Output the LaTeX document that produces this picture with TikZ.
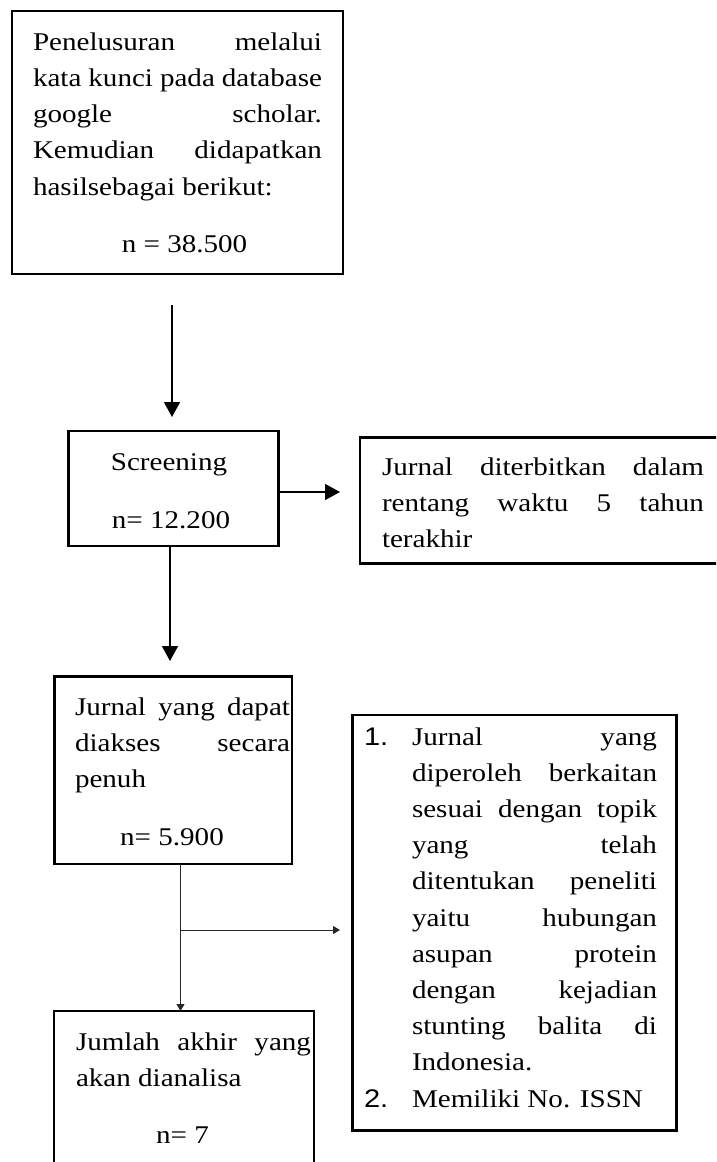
\documentclass[tikz,border=0pt]{standalone}
\usepackage{fontspec}
\setmainfont{Liberation Serif}[FakeStretch=1.14]
\newfontfamily\numfont{Liberation Sans}[FakeStretch=1.14]
\usetikzlibrary{arrows.meta}
\newcommand\fullln[1]{\makebox[\linewidth][s]{#1}\par}
\newcommand\lastln[1]{#1\par}
\tikzset{
  box/.style={draw, line width=2.6pt, rectangle, inner sep=0pt, outer sep=0pt, anchor=north west},
  txt/.style={inner sep=0pt, outer sep=0pt, anchor=base west, font=\fontsize{25.5}{36.25}\selectfont},
  ctr/.style={inner sep=0pt, outer sep=0pt, anchor=base, font=\fontsize{25.5}{36.25}\selectfont},
  bigarr/.style={line width=1.4pt, -{Triangle[length=15pt,width=16pt]}},
  smallarr/.style={line width=1pt, black!85, -{Triangle[length=7pt,width=8pt]}},
}
\begin{document}
\begin{tikzpicture}[x=1pt,y=-1pt]
\useasboundingbox (0,0) rectangle (716,1162);
\clip (0,0) rectangle (716,1162);
% boxes
\node[box, minimum width=331pt, minimum height=263pt] (b1) at (12,11) {};
\node[box, minimum width=210pt, minimum height=115pt] (scr) at (68.5,431) {};
\node[box, minimum width=370pt, minimum height=126pt] (jb) at (360,437.5) {};
\node[box, minimum width=237.5pt, minimum height=187.5pt] (b3) at (54.5,676.5) {};
\node[box, minimum width=324pt, minimum height=415.5pt] (b4) at (352.5,715) {};
\node[box, minimum width=260pt, minimum height=170pt] (b5) at (54,1011) {};
% texts
\node[txt] (t1) at (33,50) {\parbox[t]{289pt}{\setlength\parindent{0pt}%
\fullln{Penelusuran melalui}\fullln{kata kunci pada database}\fullln{google scholar.}\fullln{Kemudian didapatkan}\lastln{hasilsebagai berikut:}}};
\node[ctr] (n1) at (184.5,252) {n = 38.500};
\node[ctr] (t2) at (169,470) {Screening};
\node[ctr] (n2) at (171,528) {n= 12.200};
\node[txt] (t3) at (382,475) {\parbox[t]{322pt}{\setlength\parindent{0pt}%
\fullln{Jurnal diterbitkan dalam}\fullln{rentang waktu 5 tahun}\lastln{terakhir}}};
\node[txt] (t4) at (75,715) {\parbox[t]{215pt}{\setlength\parindent{0pt}%
\fullln{Jurnal yang dapat}\fullln{diakses secara}\lastln{penuh}}};
\node[ctr] (n4) at (172,845) {n= 5.900};
\node[txt, font=\fontsize{25.5}{36.2}\selectfont\numfont] (k1) at (364,745) {1.};
\node[txt, font=\fontsize{25.5}{36.2}\selectfont] (t5) at (412,745) {\parbox[t]{245pt}{\setlength\parindent{0pt}%
\fullln{Jurnal yang}\fullln{diperoleh berkaitan}\fullln{sesuai dengan topik}\fullln{yang telah}\fullln{ditentukan peneliti}\fullln{yaitu hubungan}\fullln{asupan protein}\fullln{dengan kejadian}\fullln{stunting balita di}\lastln{Indonesia.}}};
\node[txt, font=\fontsize{25.5}{36.2}\selectfont\numfont] (k2) at (364,1107) {2.};
\node[txt] (t6) at (412,1107) {Memiliki No. ISSN};
\node[txt] (t7) at (76,1050) {\parbox[t]{235pt}{\setlength\parindent{0pt}%
\fullln{Jumlah akhir yang}\lastln{akan dianalisa}}};
\node[ctr] (n7) at (182.5,1143) {n= 7};
% connectors
\coordinate (a1s) at (172,305);
\draw[bigarr, shorten >=14pt] (a1s) -- (a1s |- scr.north);
\coordinate (c2) at (170,0);
\draw[bigarr, shorten >=15.5pt] (scr.south -| c2) -- (b3.north -| c2);
\coordinate (c3) at (0,492);
\draw[bigarr, shorten >=20pt] (scr.east |- c3) -- (jb.west |- c3);
\coordinate (c4) at (180.5,0);
\draw[smallarr] (b3.south -| c4) -- (b5.north -| c4);
\coordinate (br) at (180.5,930);
\draw[smallarr, shorten >=12.5pt] (br) -- (b4.west |- br);
\end{tikzpicture}
\end{document}
